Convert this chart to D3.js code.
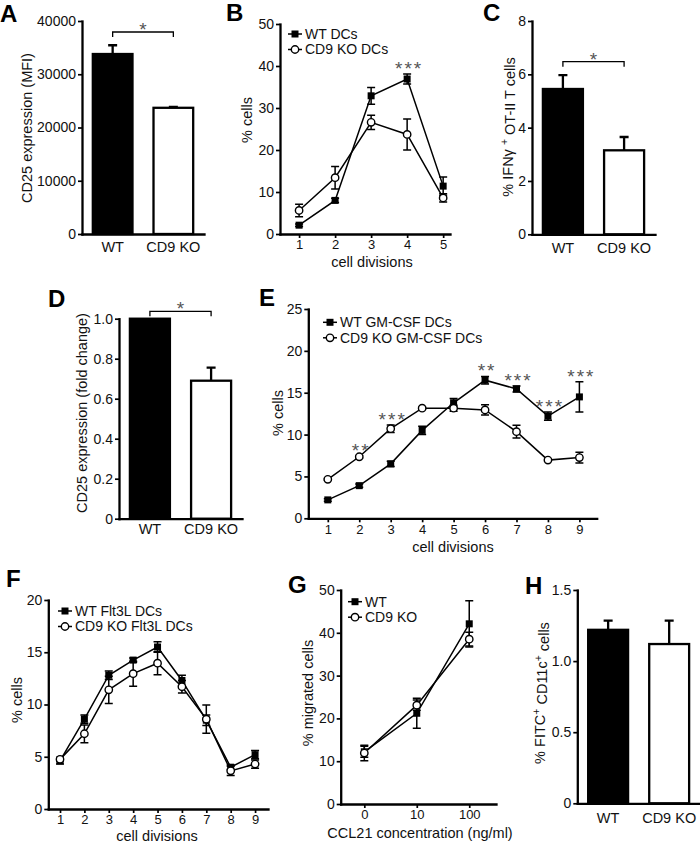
<!DOCTYPE html>
<html><head><meta charset="utf-8">
<script src="https://cdn.jsdelivr.net/npm/d3@7"></script>
<style>
body{margin:0;background:#fff;}
svg{display:block;}
</style></head><body>
<svg id="fig" width="700" height="842"></svg>
<script>
// ---------------- DATA ----------------
const barCats = ["WT", "CD9 KO"];

const aTicks = [0, 10000, 20000, 30000, 40000];
const aMeans = [33800, 23700];
const aErr = [1650, 150];

const bDiv = [1, 2, 3, 4, 5];
const bTicks = [0, 10, 20, 30, 40, 50];
const bWT = [2.1, 8.0, 32.9, 36.9, 11.4];
const bWTerr = [0.3, 0.5, 2.0, 1.2, 2.2];
const bKO = [5.6, 13.4, 26.6, 23.7, 8.6];
const bKOerr = [1.5, 2.7, 1.7, 3.7, 1.0];
const bStars = ["", "", "", "***", ""];
const bLegend = ["WT DCs", "CD9 KO DCs"];

const cTicks = [0, 2, 4, 6, 8];
const cMeans = [5.45, 3.15];
const cErr = [0.52, 0.5];

const dTicks = [0, 0.2, 0.4, 0.6, 0.8, 1.0];
const dTickLabels = ["0", "0.2", "0.4", "0.6", "0.8", "1.0"];
const dMeans = [1.0, 0.69];
const dErr = [0, 0.065];

const eDiv = [1, 2, 3, 4, 5, 6, 7, 8, 9];
const eTicks = [0, 5, 10, 15, 20, 25];
const eWT = [2.2, 3.9, 6.5, 10.5, 13.8, 16.5, 15.45, 12.2, 14.5];
const eWTerr = [0.15, 0.2, 0.3, 0.5, 0.5, 0.45, 0.35, 0.5, 1.8];
const eKO = [4.65, 7.35, 10.7, 13.15, 13.15, 12.95, 10.35, 6.95, 7.25];
const eKOerr = [0.1, 0.15, 0.45, 0.1, 0.35, 0.6, 0.75, 0.1, 0.65];
const eStars = ["", "**", "***", "", "", "**", "***", "***", "***"];
const eLegend = ["WT GM-CSF DCs", "CD9 KO GM-CSF DCs"];

const fDiv = [1, 2, 3, 4, 5, 6, 7, 8, 9];
const fTicks = [0, 5, 10, 15, 20];
const fWT = [4.6, 8.6, 12.8, 14.25, 15.5, 12.3, 8.5, 4.0, 5.2];
const fWTerr = [0.3, 0.4, 0.4, 0.2, 0.5, 0.5, 0.5, 0.2, 0.4];
const fKO = [4.75, 7.2, 11.4, 12.95, 13.95, 11.7, 8.6, 3.65, 4.3];
const fKOerr = [0.2, 0.85, 1.3, 1.2, 1.1, 0.6, 1.35, 0.45, 0.4];
const fStars = ["", "", "", "", "", "", "", "", ""];
const fLegend = ["WT Flt3L DCs", "CD9 KO Flt3L DCs"];

const gConc = ["0", "10", "100"];
const gTicks = [0, 10, 20, 30, 40, 50];
const gWT = [12.2, 21.2, 42.1];
const gWTerr = [1.3, 3.5, 5.4];
const gKO = [11.9, 23.1, 38.5];
const gKOerr = [1.8, 1.2, 1.6];
const gStars = ["", "", ""];
const gLegend = ["WT", "CD9 KO"];

const hTicks = [0, 0.5, 1.0, 1.5];
const hTickLabels = ["0", "0.5", "1.0", "1.5"];
const hMeans = [1.22, 1.12];
const hErr = [0.065, 0.165];

// ---------------- DRAWING ----------------
const FONT = '"Liberation Sans", Arial, Helvetica, sans-serif';
const TXT = "#111";
const STAR = "#555";
const svg = d3.select("#fig").attr("font-family", FONT);

function styleAxis(a, fs) {
  a.attr("font-family", FONT).attr("font-size", fs || 14);
  a.select(".domain").attr("stroke", "#000").attr("stroke-width", 2.3).attr("stroke-linecap", "square");
  a.selectAll(".tick line").attr("stroke", "#000").attr("stroke-width", 1.7);
  a.selectAll(".tick text").attr("fill", TXT);
}

function yTitle(parts, cx, cy) {
  const t = svg.append("text")
    .attr("transform", `translate(${cx},${cy}) rotate(-90)`)
    .attr("text-anchor", "middle").attr("dy", "0.35em")
    .attr("font-size", 14.5).attr("fill", TXT);
  parts.forEach(p => {
    if (p.sup) {
      t.append("tspan").attr("dy", "-0.45em").attr("font-size", 10.5).text(p.t);
    } else {
      t.append("tspan").attr("dy", p.after ? "0.45em" : null).text(p.t);
    }
  });
}

function panelLetter(l, x, y) {
  svg.append("text").attr("x", x).attr("y", y).attr("font-size", 24)
    .attr("font-weight", "bold").attr("fill", "#000").text(l);
}

function barPanel(o) {
  const g = svg.append("g");
  const x = d3.scaleBand().domain(barCats).range([o.x0, o.x1]).paddingInner(0.31).paddingOuter(0.16);
  const y = d3.scaleLinear().domain([0, o.ymax]).range([o.y0, o.y1]);
  const bw = x.bandwidth();
  const rows = barCats.map((c, i) => ({c, m: o.means[i], e: o.err[i], i}));
  g.selectAll(".eb").data(rows.filter(d => d.e > 0)).join("path")
    .attr("d", d => {
      const cx = x(d.c) + bw / 2;
      return `M${cx},${y(d.m)}V${y(d.m + d.e)}M${cx - 4.5},${y(d.m + d.e)}H${cx + 4.5}`;
    })
    .attr("stroke", "#000").attr("stroke-width", 2.3).attr("fill", "none");
  g.selectAll(".bar").data(rows).join("rect")
    .attr("x", d => x(d.c) + 1.1).attr("width", bw - 2.2)
    .attr("y", d => y(d.m)).attr("height", d => o.y0 - y(d.m))
    .attr("fill", d => d.i === 0 ? "#000" : "#fff")
    .attr("stroke", "#000").attr("stroke-width", 2.3);
  const ya = g.append("g").attr("transform", `translate(${o.x0},0)`)
    .call(d3.axisLeft(y).tickValues(o.ticks).tickSize(4).tickPadding(2).tickSizeOuter(0)
      .tickFormat((d, i) => o.tickLabels ? o.tickLabels[i] : d));
  styleAxis(ya);
  const xa = g.append("g").attr("transform", `translate(0,${o.y0})`)
    .call(d3.axisBottom(x).tickSize(0).tickPadding(o.xPad || 9).tickSizeOuter(0));
  styleAxis(xa, 14.5);
  if (o.bracketY != null) {
    const x1 = x(barCats[0]) + bw / 2, x2 = x(barCats[1]) + bw / 2;
    g.append("path").attr("d", `M${x1},${o.bracketY + 5}V${o.bracketY}H${x2}V${o.bracketY + 5}`)
      .attr("stroke", "#000").attr("stroke-width", 1.3).attr("fill", "none");
    g.append("text").attr("x", (x1 + x2) / 2).attr("y", o.bracketY + 4)
      .attr("text-anchor", "middle").attr("font-size", 19).attr("fill", STAR).text("*");
  }
}

function linePanel(o) {
  const g = svg.append("g");
  const x = d3.scaleLinear().domain(o.xd).range([o.x0, o.x1]);
  const y = d3.scaleLinear().domain([0, o.ymax]).range([o.y0, o.y1]);
  const series = [
    {v: o.wt, e: o.wtErr, type: "sq"},
    {v: o.ko, e: o.koErr, type: "ci"}
  ];
  const line = d3.line().x((d, i) => x(o.xs[i])).y(d => y(d));
  series.forEach(s => {
    g.append("path").attr("d", line(s.v)).attr("fill", "none")
      .attr("stroke", "#000").attr("stroke-width", 1.5);
  });
  series.forEach(s => {
    g.selectAll(null).data(s.v).join("path")
      .attr("d", (d, i) => {
        const cx = x(o.xs[i]), t = y(d + s.e[i]), b = y(d - s.e[i]);
        return `M${cx},${t}V${b}M${cx - 4},${t}H${cx + 4}M${cx - 4},${b}H${cx + 4}`;
      })
      .attr("stroke", "#000").attr("stroke-width", 1.5).attr("fill", "none");
  });
  series.forEach(s => {
    if (s.type === "sq") {
      g.selectAll(null).data(s.v).join("rect")
        .attr("x", (d, i) => x(o.xs[i]) - 3.5).attr("y", d => y(d) - 3.5)
        .attr("width", 7).attr("height", 7).attr("fill", "#000");
    } else {
      g.selectAll(null).data(s.v).join("circle")
        .attr("cx", (d, i) => x(o.xs[i])).attr("cy", d => y(d)).attr("r", 3.7)
        .attr("fill", "#fff").attr("stroke", "#000").attr("stroke-width", 1.4);
    }
  });
  o.stars.forEach((st, i) => {
    if (!st) return;
    const top = Math.max(o.wt[i] + o.wtErr[i], o.ko[i] + o.koErr[i]);
    g.append("text").attr("x", x(o.xs[i]) + 2).attr("y", y(top) + 1)
      .attr("text-anchor", "middle").attr("font-size", 19).attr("letter-spacing", 2)
      .attr("fill", STAR).text(st);
  });
  const ya = g.append("g").attr("transform", `translate(${o.x0},0)`)
    .call(d3.axisLeft(y).tickValues(o.ticks).tickSize(4).tickPadding(2).tickSizeOuter(0));
  styleAxis(ya);
  const xa = g.append("g").attr("transform", `translate(0,${o.y0})`)
    .call(d3.axisBottom(x).tickValues(o.xs).tickSize(4).tickPadding(2).tickSizeOuter(0)
      .tickFormat((d, i) => o.xLabels ? o.xLabels[i] : d));
  styleAxis(xa, 13);
  o.legend.forEach((lab, i) => {
    const ly = o.leg.y + i * 15.5;
    g.append("line").attr("x1", o.leg.x).attr("x2", o.leg.x + 14).attr("y1", ly).attr("y2", ly)
      .attr("stroke", "#000").attr("stroke-width", 1.5);
    const mx = o.leg.x + 7;
    if (i === 0) {
      g.append("rect").attr("x", mx - 3.5).attr("y", ly - 3.5).attr("width", 7).attr("height", 7).attr("fill", "#000");
    } else {
      g.append("circle").attr("cx", mx).attr("cy", ly).attr("r", 3.7).attr("fill", "#fff")
        .attr("stroke", "#000").attr("stroke-width", 1.4);
    }
    g.append("text").attr("x", o.leg.x + 17).attr("y", ly).attr("dy", "0.35em")
      .attr("font-size", 14).attr("fill", TXT).text(lab);
  });
  svg.append("text").attr("x", o.xtitle.x).attr("y", o.xtitle.y).attr("text-anchor", "middle")
    .attr("font-size", 14.5).attr("fill", TXT).text(o.xtitle.t);
}

// Panel A
panelLetter("A", 0, 22);
barPanel({x0: 82, x1: 204, y0: 234, y1: 21, ymax: 40000, ticks: aTicks,
  means: aMeans, err: aErr, bracketY: 32, xPad: 8});
yTitle([{t: "CD25 expression (MFI)"}], 27, 128);

// Panel B
panelLetter("B", 226, 21);
linePanel({x0: 280, x1: 450, xd: [0.47, 5.19], y0: 234, y1: 24, ymax: 50, ticks: bTicks,
  xs: bDiv, wt: bWT, wtErr: bWTerr, ko: bKO, koErr: bKOerr, stars: bStars,
  legend: bLegend, leg: {x: 288, y: 34},
  xtitle: {t: "cell divisions", x: 372, y: 266.5}});
yTitle([{t: "% cells"}], 247, 120);

// Panel C
panelLetter("C", 483, 21);
barPanel({x0: 532, x1: 655, y0: 234.3, y1: 21, ymax: 8, ticks: cTicks,
  means: cMeans, err: cErr, bracketY: 61.7, xPad: 8});
yTitle([{t: "% IFNγ "}, {t: "+", sup: true}, {t: " OT-II T cells", after: true}], 508, 127);

// Panel D
panelLetter("D", 48, 307);
barPanel({x0: 119, x1: 242, y0: 518.7, y1: 318.7, ymax: 1, ticks: dTicks, tickLabels: dTickLabels,
  means: dMeans, err: dErr, bracketY: 311.3, xPad: 5});
yTitle([{t: "CD25 expression (fold change)"}], 82, 413);

// Panel E
panelLetter("E", 259, 306);
linePanel({x0: 308.3, x1: 596.7, xd: [0.38, 9.55], y0: 518.3, y1: 309, ymax: 25, ticks: eTicks,
  xs: eDiv, wt: eWT, wtErr: eWTerr, ko: eKO, koErr: eKOerr, stars: eStars,
  legend: eLegend, leg: {x: 323, y: 322.3},
  xtitle: {t: "cell divisions", x: 453, y: 551.5}});
yTitle([{t: "% cells"}], 278, 413);

// Panel F
panelLetter("F", 6, 587);
linePanel({x0: 48.3, x1: 268, xd: [0.52, 9.53], y0: 809, y1: 600, ymax: 20, ticks: fTicks,
  xs: fDiv, wt: fWT, wtErr: fWTerr, ko: fKO, koErr: fKOerr, stars: fStars,
  legend: fLegend, leg: {x: 58, y: 611},
  xtitle: {t: "cell divisions", x: 157, y: 840.5}});
yTitle([{t: "% cells"}], 17, 700);

// Panel G
panelLetter("G", 288, 593);
linePanel({x0: 340.7, x1: 496, xd: [-0.45, 2.51], y0: 804, y1: 590, ymax: 50, ticks: gTicks,
  xs: [0, 1, 2], xLabels: gConc, wt: gWT, wtErr: gWTerr, ko: gKO, koErr: gKOerr, stars: gStars,
  legend: gLegend, leg: {x: 348, y: 601.7},
  xtitle: {t: "CCL21 concentration (ng/ml)", x: 420, y: 838}});
yTitle([{t: "% migrated cells"}], 308, 693);

// Panel H
panelLetter("H", 525, 594);
barPanel({x0: 577.3, x1: 700, y0: 803.3, y1: 590, ymax: 1.5, ticks: hTicks, tickLabels: hTickLabels,
  means: hMeans, err: hErr, bracketY: null, xPad: 9});
yTitle([{t: "% FITC"}, {t: "+", sup: true}, {t: " CD11c", after: true}, {t: "+", sup: true}, {t: " cells", after: true}], 540, 693);
</script>
</body></html>
